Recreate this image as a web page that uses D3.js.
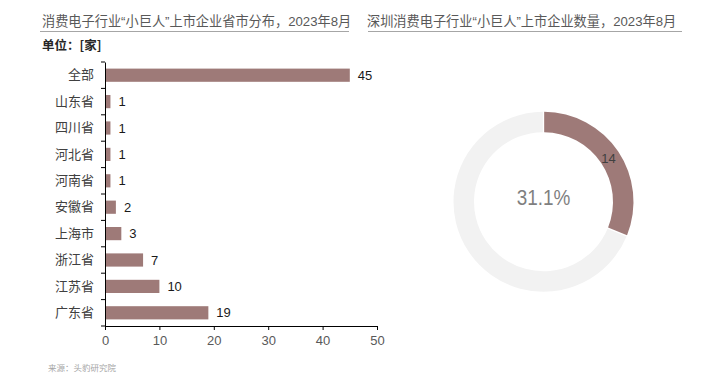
<!DOCTYPE html>
<html><head><meta charset="utf-8">
<script src="https://cdn.jsdelivr.net/npm/d3@7"></script>
<style>
html,body{margin:0;padding:0;background:#fff;}
svg{display:block;font-family:"Liberation Sans","Noto Sans CJK SC",sans-serif;}
.cjk{font-family:"Noto Sans CJK SC","Liberation Sans",sans-serif;}
.mix{font-family:"Liberation Sans","Noto Sans CJK SC",sans-serif;}
</style></head>
<body>
<svg id="c" width="720" height="377"></svg>
<script>
const categories = ["全部","山东省","四川省","河北省","河南省","安徽省","上海市","浙江省","江苏省","广东省"];
const values = [45,1,1,1,1,2,3,7,10,19];
const xTicks = [0,10,20,30,40,50];
const donutLabels = ["深圳","其他"];
const donutValues = [14,31];
const leftTitle = "消费电子行业“小巨人”上市企业省市分布，2023年8月";
const rightTitle = "深圳消费电子行业“小巨人”上市企业数量，2023年8月";
const unitText = "单位：[家]";
const sourceText = "来源：头豹研究院";

const barColor = "#9e7a78";
const svg = d3.select("#c");

// Titles
function title(x, y, x1, x2, text){
  svg.append("text").attr("class","mix").attr("x",x).attr("y",y)
    .attr("font-size",13.2).attr("fill","#595959").text(text);
  svg.append("line").attr("x1",x1).attr("x2",x2).attr("y1",31.5).attr("y2",31.5)
    .attr("stroke","#a6a6a6").attr("stroke-width",1);
}
title(42, 26, 40, 349, leftTitle);
title(367, 26, 368, 682, rightTitle);

svg.append("text").attr("class","cjk").attr("x",42).attr("y",50)
  .attr("font-size",12.5).attr("font-weight","bold").attr("fill","#262626").text(unitText);

// Bar chart
const x = d3.scaleLinear().domain([0,50]).range([105,377]);
const y = d3.scaleBand().domain(categories).range([62,326]).paddingInner(0.5).paddingOuter(0.25);

const g = svg.append("g");
g.selectAll("rect").data(categories).join("rect")
  .attr("x", x(0)).attr("y", d=>y(d))
  .attr("width", (d,i)=>x(values[i])-x(0))
  .attr("height", y.bandwidth())
  .attr("fill", barColor);

g.selectAll("text.val").data(categories).join("text").attr("class","val")
  .attr("x",(d,i)=>x(values[i])+8).attr("y",d=>y(d)+y.bandwidth()/2)
  .attr("dy","0.35em").attr("font-size",13).attr("fill","#1a1a1a")
  .text((d,i)=>values[i]);

// y axis
const yAxis = d3.axisLeft(y).tickSize(0).tickPadding(11);
const ya = svg.append("g").attr("transform",`translate(${x(0)},0)`).call(yAxis);
ya.select(".domain").attr("stroke","#000");
ya.selectAll("text").attr("class","cjk").attr("font-size",13).attr("fill","#404040");
const step = y.step();
const bounds = categories.map(d=>y(d)-(step-y.bandwidth())/2).concat([y.range()[1]]);
svg.append("g").selectAll("line").data(bounds).join("line")
  .attr("x1",x(0)-4).attr("x2",x(0)).attr("y1",d=>d).attr("y2",d=>d)
  .attr("stroke","#000");

// x axis
const xAxis = d3.axisBottom(x).tickValues(xTicks).tickSizeInner(4).tickSizeOuter(0).tickPadding(6);
const xa = svg.append("g").attr("transform",`translate(0,${y.range()[1]})`).call(xAxis);
xa.select(".domain").attr("stroke","#000");
xa.selectAll(".tick line").attr("stroke","#000");
xa.selectAll("text").attr("font-size",13).attr("fill","#595959").attr("font-family","Liberation Sans, sans-serif");

// source
svg.append("text").attr("class","cjk").attr("x",48).attr("y",371)
  .attr("font-size",8.5).attr("fill","#a6a6a6").text(sourceText);

// Donut
const cx = 543.5, cy = 201.7, rOuter = 90, rInner = 69.5;
const pie = d3.pie().sort(null).value(d=>d).padAngle(0.012);
const arcs = pie(donutValues);
const arc = d3.arc().innerRadius(rInner).outerRadius(rOuter);
const dg = svg.append("g").attr("transform",`translate(${cx},${cy})`);
dg.selectAll("path").data(arcs).join("path")
  .attr("d",arc).attr("fill",(d,i)=> i===0 ? barColor : "#f2f2f2");
// label for first segment
const a0 = arcs[0];
const mid = (a0.startAngle + a0.endAngle)/2;
const lr = rInner + 4;
dg.append("text")
  .attr("x", Math.sin(mid)*lr + 4).attr("y", -Math.cos(mid)*lr - 2)
  .attr("text-anchor","middle").attr("dy","0.35em")
  .attr("font-size",13).attr("fill","#404040").text(donutValues[0]);
const pct = donutValues[0]/d3.sum(donutValues)*100;
dg.append("text").attr("x",0).attr("y",-4).attr("text-anchor","middle").attr("dy","0.35em")
  .attr("transform","scale(0.88,1)")
  .attr("font-size",21.5).attr("fill","#7f7f7f").text(pct.toFixed(1)+"%");
</script>
</body></html>
